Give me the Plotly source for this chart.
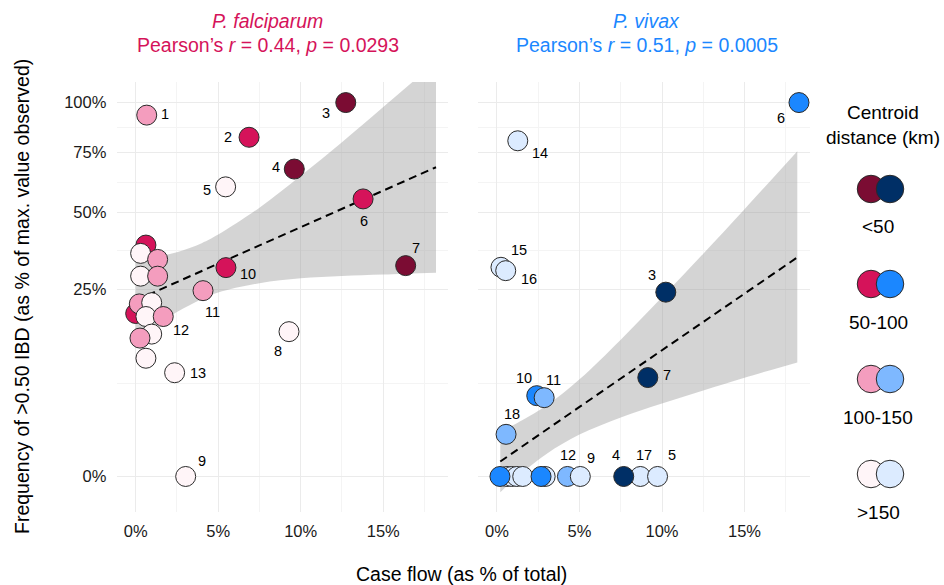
import numpy as np
import plotly.graph_objects as go

# ---------------- data ----------------
# P. falciparum: case flow (% of total), IBD frequency (% of max), distance class, label
pf_x = [0.0, 0.62, 0.30, 1.33, 0.30, 1.33, 0.22, 0.97, 0.62, 1.67, 0.97, 0.26, 0.62,
        0.67, 6.87, 12.73, 9.61, 5.45, 13.78, 16.36, 9.29, 3.03, 5.47, 4.08, 2.36]
pf_y = [19.0, 38.3, 35.6, 33.7, 28.7, 28.7, 21.3, 21.6, 18.3, 18.3, 14.5, 13.7, 10.0,
        93.4, 82.3, 100.0, 67.6, 60.0, 55.1, 31.8, 15.0, 0.0, 31.2, 24.7, 7.7]
pf_cat = ["50-100", "50-100", ">150", "100-150", ">150", "100-150", "100-150", ">150", ">150",
          "100-150", ">150", "100-150", ">150",
          "100-150", "50-100", "<50", "<50", ">150", "50-100", "<50", ">150", ">150",
          "50-100", "100-150", ">150"]
pf_lab = ["", "", "", "", "", "", "", "", "", "12", "", "", "",
          "1", "2", "3", "4", "5", "6", "7", "8", "9", "10", "11", "13"]

# P. vivax
pv_x = [0.60, 0.89, 1.20, 1.56, 0.18, 2.92, 2.67, 4.27, 5.05, 8.69, 7.68, 9.73,
        18.30, 1.26, 0.24, 0.53, 10.23, 9.14, 2.41, 2.86, 0.55]
pv_y = [0.0, 0.0, 0.0, 0.0, 0.0, 0.0, 0.0, 0.0, 0.0, 0.0, 0.0, 0.0,
        100.0, 80.6, 31.3, 30.3, 24.3, 7.0, 4.67, 4.44, 1.27]
pv_cat = [">150", ">150", ">150", ">150", "50-100", ">150", "50-100", "100-150", ">150", ">150",
          "<50", ">150",
          "50-100", ">150", ">150", ">150", "<50", "<50", "50-100", "100-150", "100-150"]
pv_lab = ["", "", "", "", "", "", "", "12", "9", "17", "4", "5",
          "6", "14", "15", "16", "3", "7", "10", "11", "18"]

# linear fit and 95% band (on the square-root scale)
pf_fit_x = [0, 1, 2.5, 4, 5, 7.5, 10, 12.5, 15, 18.2]
pf_fit_mid = [0.471, 0.491, 0.520, 0.549, 0.569, 0.618, 0.667, 0.715, 0.764, 0.827]
pf_fit_lo = [0.365, 0.398, 0.440, 0.474, 0.492, 0.517, 0.530, 0.536, 0.540, 0.545]
pf_fit_hi = [0.577, 0.585, 0.600, 0.624, 0.647, 0.719, 0.804, 0.894, 0.988, 1.109]

pv_fit_x = [0.2, 1, 3, 5, 7.5, 10, 12.5, 15, 18.2]
pv_fit_mid = [0.040, 0.064, 0.125, 0.186, 0.262, 0.337, 0.413, 0.489, 0.586]
pv_fit_lo = [-0.042, -0.010, 0.060, 0.112, 0.158, 0.195, 0.230, 0.264, 0.305]
pv_fit_hi = [0.122, 0.138, 0.190, 0.260, 0.366, 0.479, 0.596, 0.715, 0.870]

categories = ["<50", "50-100", "100-150", ">150"]
cat_text = ["&lt;50", "50-100", "100-150", "&gt;150"]
pf_colors = {"<50": "#7B0C33", "50-100": "#D5135A", "100-150": "#F49DBE", ">150": "#FFF5F8"}
pv_colors = {"<50": "#002F66", "50-100": "#1B87FF", "100-150": "#7EB8FF", ">150": "#DCEBFF"}

x_ticks = [0, 5, 10, 15]
x_tick_text = ["0%", "5%", "10%", "15%"]
y_ticks = [0, 25, 50, 75, 100]
y_tick_text = ["0%", "25%", "50%", "75%", "100%"]

# label offsets (pixels) for the point labels
pf_off = [None] * 9 + [(18, -13)] + [None] * 3 + [
    (18, 1), (-21, 0), (-20, -10), (-18, 2), (-19, -3), (1, -22), (10, 18),
    (-11, -19), (16, 15), (22, -6), (9, -21), (23, 0)]
pv_off = [None] * 7 + [(1, 21), (11, 18), (4, 21), (-8, 21), (14, 21),
                       (-18, -15), (22, -12), (18, 17), (23, -8), (-14, 17), (19, 3),
                       (-13, 18), (9, 18), (6, 20)]

FONT = "Liberation Sans, Arial, sans-serif"
W, H = 944, 585

fig = go.Figure()

def tr(v):
    return np.sqrt(np.asarray(v, dtype=float) / 100.0)

def px(xp, yp):
    return xp / W, 1 - yp / H

def add_panel(xs, ys, cats, fx, fmid, flo, fhi, colors, xa, ya):
    fig.add_trace(go.Scatter(x=fx, y=flo, mode="lines", line=dict(width=0, shape="spline"),
                             xaxis=xa, yaxis=ya, hoverinfo="skip", showlegend=False))
    fig.add_trace(go.Scatter(x=fx, y=fhi, mode="lines", line=dict(width=0, shape="spline"),
                             fill="tonexty", fillcolor="rgba(153,153,153,0.42)",
                             xaxis=xa, yaxis=ya, hoverinfo="skip", showlegend=False))
    fig.add_trace(go.Scatter(x=fx, y=fmid, mode="lines",
                             line=dict(color="black", width=2, dash="8px,5px"),
                             xaxis=xa, yaxis=ya, hoverinfo="skip", showlegend=False))
    fig.add_trace(go.Scatter(x=xs, y=tr(ys), mode="markers",
                             marker=dict(size=20, color=[colors[c] for c in cats],
                                         line=dict(color="#2a2a2a", width=1), opacity=1),
                             xaxis=xa, yaxis=ya, showlegend=False, cliponaxis=False))

add_panel(pf_x, pf_y, pf_cat, pf_fit_x, pf_fit_mid, pf_fit_lo, pf_fit_hi, pf_colors, "x", "y")
add_panel(pv_x, pv_y, pv_cat, pv_fit_x, pv_fit_mid, pv_fit_lo, pv_fit_hi, pv_colors, "x2", "y2")

annotations = []
for xs, ys, labs, offs, xr_, yr_ in [(pf_x, pf_y, pf_lab, pf_off, "x", "y"),
                                     (pv_x, pv_y, pv_lab, pv_off, "x2", "y2")]:
    for xv, yv, lab, off in zip(xs, ys, labs, offs):
        if lab and off:
            annotations.append(dict(x=xv, y=float(tr(yv)), xref=xr_, yref=yr_, text=lab,
                                    showarrow=False, xshift=off[0], yshift=off[1],
                                    font=dict(size=14.5, color="black", family=FONT)))

# legend key (drawn on a small overlay axis in pixel units, right strip only)
leg_y = [189, 284, 379, 474]
LX0 = 822
fig.add_trace(go.Scatter(x=[871] * 4, y=leg_y, mode="markers", xaxis="x3", yaxis="y3",
                         marker=dict(size=27.5, color=[pf_colors[c] for c in categories],
                                     line=dict(color="#2a2a2a", width=1)),
                         showlegend=False, hoverinfo="skip", cliponaxis=False))
fig.add_trace(go.Scatter(x=[890] * 4, y=leg_y, mode="markers", xaxis="x3", yaxis="y3",
                         marker=dict(size=27.5, color=[pv_colors[c] for c in categories],
                                     line=dict(color="#2a2a2a", width=1)),
                         showlegend=False, hoverinfo="skip", cliponaxis=False))

def ptext(xp, yp, text, size, color="black", angle=0):
    x, y = px(xp, yp)
    return dict(x=x, y=y, xref="paper", yref="paper", text=text, showarrow=False,
                xanchor="center", yanchor="middle", textangle=angle,
                font=dict(size=size, color=color, family=FONT))

for yy, t in zip(leg_y, cat_text):
    annotations.append(ptext(878, yy + 38, t, 19))
annotations.append(ptext(883, 113, "Centroid", 19))
annotations.append(ptext(883, 137, "distance (km)", 19))

annotations += [
    ptext(267.5, 21, "<i>P. falciparum</i>", 19.5, "#D5135A"),
    ptext(267.5, 45, "Pearson’s <i>r</i> = 0.44, <i>p</i> = 0.0293", 19.5, "#D5135A"),
    ptext(646.5, 21, "<i>P. vivax</i>", 19.5, "#1B87FF"),
    ptext(646.5, 45, "Pearson’s <i>r</i> = 0.51, <i>p</i> = 0.0005", 19.5, "#1B87FF"),
    ptext(461, 574, "Case flow (as % of total)", 19.5),
    ptext(22, 297, "Frequency of &gt;0.50 IBD (as % of max. value observed)", 19.5, angle=-90),
]

top_px, bot_px = 82, 512
ydom = [(H - bot_px) / H, (H - top_px) / H]
xr = [-1.15, 18.95]
grid = "#EBEBEB"
minor_grid = "#F4F4F4"

xcommon = dict(range=xr, tickvals=x_ticks, ticktext=x_tick_text, showgrid=True, gridcolor=grid,
               gridwidth=1, zeroline=False, showline=False, ticks="outside", ticklen=0,
               tickfont=dict(size=16.5, color="#1a1a1a", family=FONT), ticklabelstandoff=4,
               minor=dict(tickvals=[2.5, 7.5, 12.5, 17.5], showgrid=True, gridcolor=minor_grid,
                          gridwidth=1))
ycommon = dict(range=[-0.095, 1.055], tickvals=list(tr(y_ticks)), ticktext=y_tick_text,
               showgrid=True, gridcolor=grid, gridwidth=1, zeroline=False, showline=False,
               ticks="outside", ticklen=0, domain=ydom,
               tickfont=dict(size=16.5, color="#1a1a1a", family=FONT), ticklabelstandoff=6,
               minor=dict(tickvals=[0.25, 0.6036, 0.7866, 0.933], showgrid=True,
                          gridcolor=minor_grid, gridwidth=1))

fig.update_layout(
    width=W, height=H, margin=dict(l=0, r=0, t=0, b=0),
    paper_bgcolor="white", plot_bgcolor="rgba(0,0,0,0)", showlegend=False,
    font=dict(family=FONT, color="black"),
    xaxis=dict(domain=[116.7 / W, 448.4 / W], anchor="y", **xcommon),
    yaxis=dict(anchor="x", **ycommon),
    xaxis2=dict(domain=[478 / W, 809.7 / W], anchor="y2", **xcommon),
    yaxis2=dict(anchor="x2", showticklabels=False, **ycommon),
    xaxis3=dict(domain=[LX0 / W, 1], range=[LX0, W], visible=False, anchor="y3",
                fixedrange=True),
    yaxis3=dict(domain=[0, 1], range=[H, 0], visible=False, anchor="x3", fixedrange=True),
    annotations=annotations,
)

fig.write_html("out.html", config={"displayModeBar": False},
               post_script="document.body.style.margin='0';")
